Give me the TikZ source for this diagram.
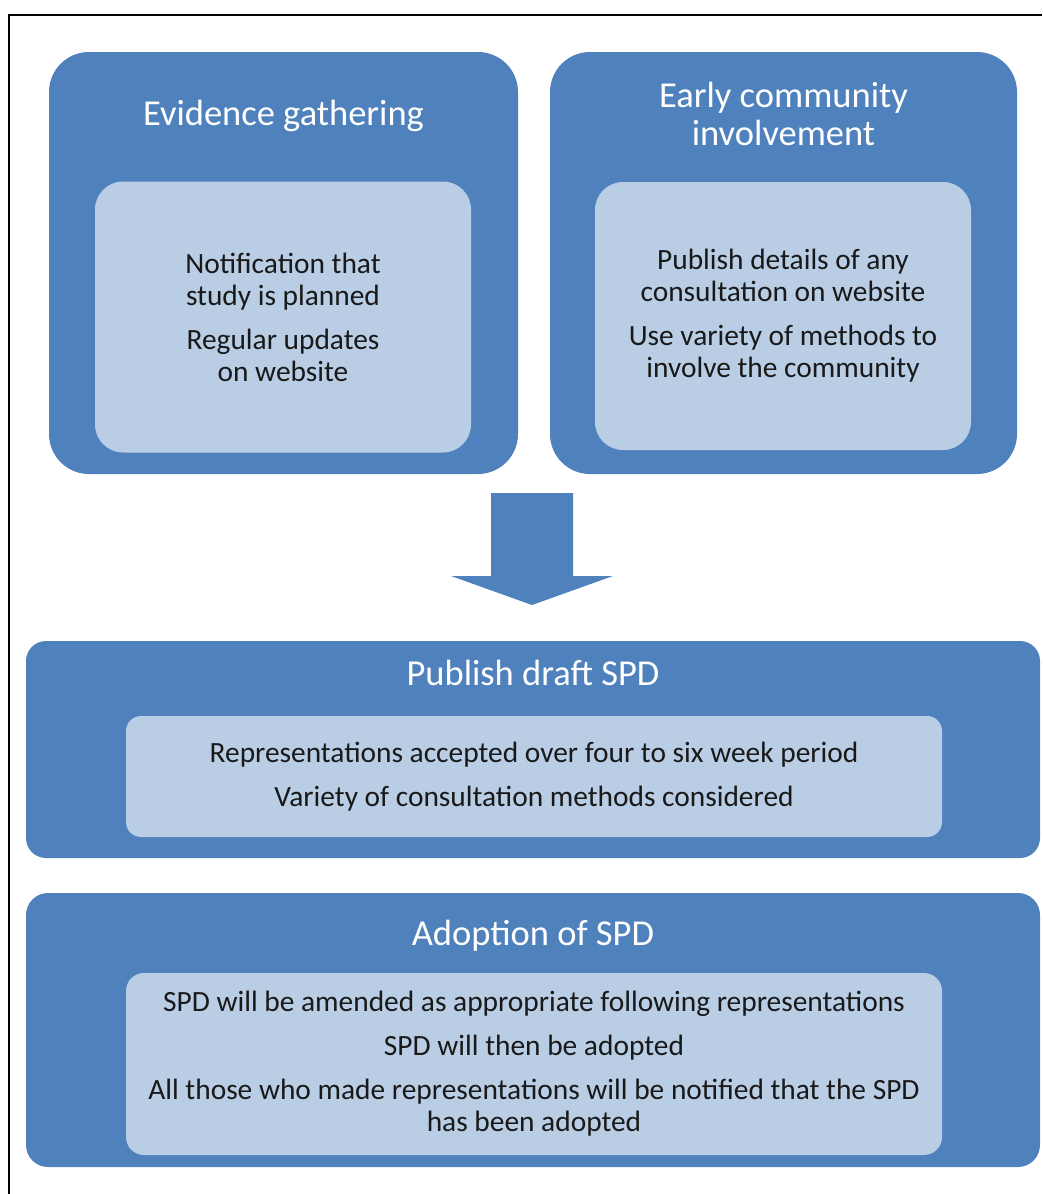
\documentclass[tikz,border=0pt]{standalone}
\usepackage{fontspec}
\setmainfont{Carlito}
\usepackage{tikz}
\usepackage{color}
\definecolor{stageblue}{RGB}{79,129,189}
\definecolor{stagelight}{RGB}{185,205,229}
\definecolor{stagetext}{RGB}{25,25,25}

\begin{document}
\begin{tikzpicture}[x=1pt,y=-1pt,
	stage/.style={rectangle,rounded corners=40pt,fill=stageblue,inner sep=0pt,outer sep=0pt},
	detail/.style={rectangle,rounded corners=28pt,fill=stagelight,inner sep=0pt,outer sep=0pt,align=center,text=stagetext,font=\fontsize{29.4}{32}\selectfont},
	heading/.style={anchor=base,text=white,align=center,font=\fontsize{36.5}{38}\selectfont}]
	\useasboundingbox (0,0) rectangle (1042,1194);
	\coordinate (corner) at (9,15);
	\draw[line width=2pt] (9,1194) -- (corner) -- (1042,15);
	\node[stage,minimum width=469pt,minimum height=422pt] (evidence) at (283.5,263){};
	\node[stage,minimum width=467pt,minimum height=422pt] (early) at (783.5,263){};
	\node[heading] (evidenceTitle) at (283.5,125){Evidence gathering};
	\node[heading] (earlyTitle) at (783.5,145.5){Early community\\involvement};
	\node[detail,minimum width=376pt,minimum height=271pt] (evidenceText) at (283,317){Notification that\\study is planned\\[12pt]Regular updates\\on website};
	\node[detail,minimum width=376pt,minimum height=268pt] (earlyText) at (783,316){Publish details of any\\consultation on website\\[12pt]Use variety of methods to\\involve the community};
	\coordinate (arrowtop) at (532,493);
	\fill[stageblue] (arrowtop) ++(-41,0) -- ++(82,0) -- ++(0,83) -- ++(40,0) -- (532,605) -- ++(-81,-29) -- ++(40,0) -- cycle;
	\node[stage,rounded corners=20pt,minimum width=1014pt,minimum height=217pt] (draft) at (533,749.5){};
	\node[heading] (draftTitle) at (533,685){Publish draft SPD};
	\node[detail,rounded corners=15pt,minimum width=816pt,minimum height=121pt] (draftText) at (534,776.5){Representations accepted over four to six week period\\[12pt]Variety of consultation methods considered};
	\node[stage,rounded corners=22pt,minimum width=1014pt,minimum height=274pt] (adoption) at (533,1030){};
	\node[heading] (adoptionTitle) at (533,945){Adoption of SPD};
	\node[detail,rounded corners=18pt,minimum width=816pt,minimum height=182pt] (adoptionText) at (534,1064){SPD will be amended as appropriate following representations\\[12pt]SPD will then be adopted\\[12pt]All those who made representations will be notified that the SPD\\has been adopted};
\end{tikzpicture}
\end{document}
